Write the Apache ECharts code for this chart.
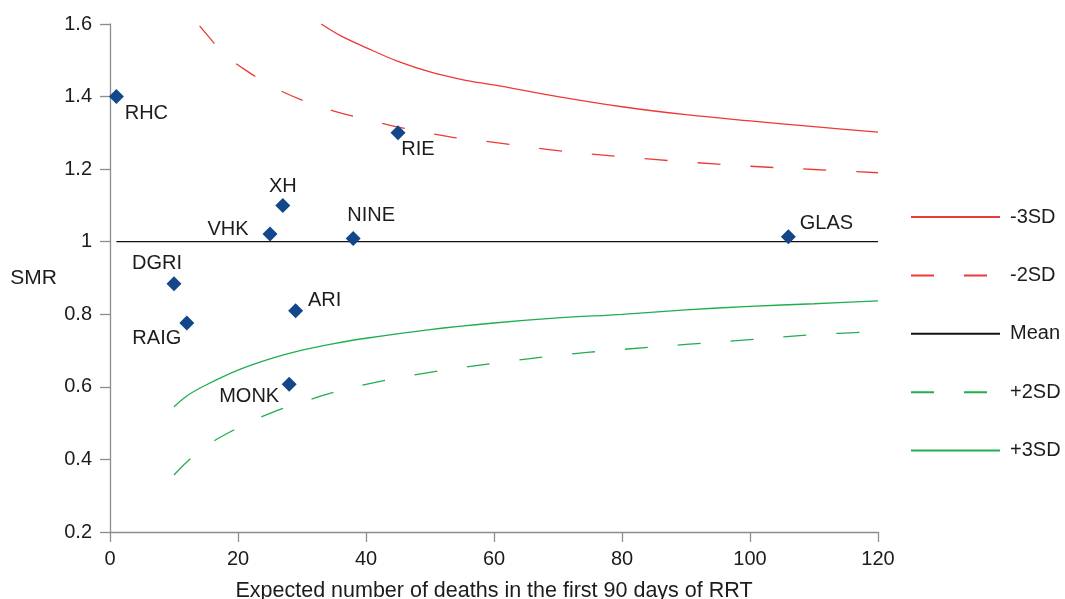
<!DOCTYPE html>
<html>
<head>
<meta charset="utf-8">
<script src="https://cdn.jsdelivr.net/npm/echarts@6/dist/echarts.min.js"></script>
<style>
  html, body { margin: 0; padding: 0; background: #fff; }
  #chart { width: 1065px; height: 599px; }
</style>
</head>
<body>
<div id="chart"></div>
<script>
// units: expected deaths vs SMR
const unitNames = ['RHC', 'DGRI', 'RAIG', 'VHK', 'XH', 'ARI', 'MONK', 'NINE', 'RIE', 'GLAS'];
const unitExpected = [1, 10, 12, 25, 27, 29, 28, 38, 45, 106];
const unitSmr = [1.40, 0.884, 0.776, 1.021, 1.10, 0.81, 0.607, 1.009, 1.30, 1.014];

// mean line
const meanX = [1, 120];
const meanY = [1, 1];

// control limits
const minus3X = [33, 36, 40, 45, 50, 55, 60, 70, 80, 90, 100, 110, 120];
const minus3Y = [1.60, 1.568, 1.535, 1.497, 1.468, 1.447, 1.432, 1.40, 1.372, 1.35, 1.333, 1.317, 1.302];

const minus2X = [14, 16, 18, 20, 25, 30, 35, 40, 45, 50, 55, 60, 70, 80, 90, 100, 110, 120];
const minus2Y = [1.595, 1.553, 1.513, 1.487, 1.431, 1.39, 1.36, 1.337, 1.316, 1.299, 1.284, 1.274, 1.251, 1.234, 1.22, 1.208, 1.199, 1.19];

const plus2X = [10, 12, 15, 20, 25, 30, 35, 40, 50, 60, 70, 80, 90, 100, 110, 120];
const plus2Y = [0.357, 0.393, 0.437, 0.487, 0.527, 0.558, 0.585, 0.607, 0.64, 0.665, 0.687, 0.703, 0.717, 0.73, 0.744, 0.752];

const plus3X = [10, 12, 15, 20, 25, 30, 35, 40, 50, 60, 70, 80, 90, 100, 110, 120];
const plus3Y = [0.545, 0.575, 0.605, 0.646, 0.677, 0.701, 0.719, 0.734, 0.758, 0.776, 0.79, 0.80, 0.812, 0.822, 0.829, 0.837];

const xTicks = { min: 0, max: 120, interval: 20 };
const yTicks = { min: 0.2, max: 1.6, interval: 0.2 };

// label placement (offset of label centre from the marker, px)
const labelOffsets = {
  RHC: [30, 17], DGRI: [-17, -20], RAIG: [-30, 15], VHK: [-42, -5], XH: [0, -19],
  ARI: [29, -10], MONK: [-40, 12], NINE: [18, -23], RIE: [20, 17], GLAS: [38, -13]
};

const RED = '#ec3a36';
const GREEN = '#1fae4f';
const TEXT = '#1e1b1c';
const AXIS = '#8c8c8c';
const FONT = '"Liberation Sans", Arial, Helvetica, sans-serif';

function zip(xs, ys) {
  return xs.map((x, i) => [x, ys[i]]);
}

function limitSeries(name, xs, ys, color, dashed) {
  return {
    name: name,
    type: 'line',
    data: zip(xs, ys),
    smooth: 0.35,
    symbol: 'none',
    silent: true,
    lineStyle: { color: color, width: 1.3, type: dashed ? [23, 30] : 'solid' },
    // no marker in the legend, just the line
    itemStyle: { color: 'rgba(0,0,0,0)' },
    z: 2
  };
}

const chart = echarts.init(document.getElementById('chart'));

const option = {
  animation: false,
  backgroundColor: '#fff',
  textStyle: { fontFamily: FONT, color: TEXT },
  grid: { left: 110, right: 187, top: 24, bottom: 67, containLabel: false, outerBoundsMode: 'none' },
  legend: {
    data: ['-3SD', '-2SD', 'Mean', '+2SD', '+3SD'],
    orient: 'vertical',
    left: 910,
    top: 207,
    padding: 0,
    itemWidth: 89,
    itemHeight: 20,
    itemGap: 38.4,
    selectedMode: false,
    itemStyle: { opacity: 0 },
    textStyle: { fontSize: 20, color: TEXT, fontFamily: FONT, lineHeight: 20, padding: [0, 0, 0, 5] }
  },
  xAxis: {
    type: 'value',
    min: xTicks.min,
    max: xTicks.max,
    interval: xTicks.interval,
    name: 'Expected number of deaths in the first 90 days of RRT',
    nameLocation: 'middle',
    nameGap: 48,
    nameTextStyle: { fontSize: 21.5, color: TEXT, fontFamily: FONT },
    axisLine: { show: true, lineStyle: { color: AXIS, width: 1.3 } },
    axisTick: { show: true, length: 10, lineStyle: { color: AXIS, width: 1.3 } },
    axisLabel: { fontSize: 20, color: TEXT, margin: 17, fontFamily: FONT },
    splitLine: { show: false }
  },
  yAxis: {
    type: 'value',
    min: yTicks.min,
    max: yTicks.max,
    interval: yTicks.interval,
    name: 'SMR',
    nameLocation: 'middle',
    nameRotate: 0,
    nameGap: 53,
    nameTextStyle: { fontSize: 21, color: TEXT, fontFamily: FONT },
    axisLine: { show: true, lineStyle: { color: AXIS, width: 1.3 } },
    axisTick: { show: true, length: 10, lineStyle: { color: AXIS, width: 1.3 } },
    axisLabel: { fontSize: 20, color: TEXT, margin: 18, fontFamily: FONT },
    splitLine: { show: false }
  },
  series: [
    limitSeries('-3SD', minus3X, minus3Y, RED, false),
    limitSeries('-2SD', minus2X, minus2Y, RED, true),
    {
      name: 'Mean',
      type: 'line',
      data: zip(meanX, meanY),
      symbol: 'none',
      silent: true,
      lineStyle: { color: '#111', width: 1.3 },
      itemStyle: { color: 'rgba(0,0,0,0)' },
      z: 2
    },
    limitSeries('+2SD', plus2X, plus2Y, GREEN, true),
    limitSeries('+3SD', plus3X, plus3Y, GREEN, false),
    {
      name: 'Units',
      type: 'scatter',
      symbol: 'diamond',
      symbolSize: [15, 15],
      itemStyle: { color: '#12478a', opacity: 1 },
      z: 5,
      data: unitNames.map((n, i) => ({
        name: n,
        value: [unitExpected[i], unitSmr[i]],
        label: {
          show: true,
          position: 'inside',
          offset: labelOffsets[n],
          formatter: n,
          fontSize: 20,
          color: TEXT,
          fontFamily: FONT
        }
      }))
    }
  ]
};

chart.setOption(option);
</script>
</body>
</html>
